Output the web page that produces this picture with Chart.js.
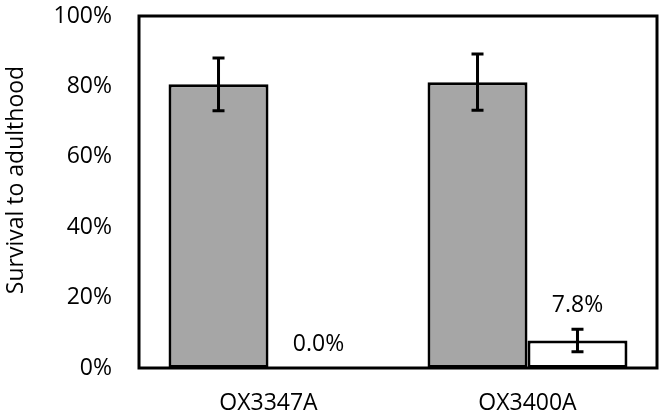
<!DOCTYPE html>
<html>
<head>
<meta charset="utf-8">
<script src="https://cdn.jsdelivr.net/npm/chart.js@4/dist/chart.umd.min.js"></script>
<style>
  html, body { margin: 0; padding: 0; background: #fff; }
  #wrap { width: 664px; height: 418px; }
</style>
</head>
<body>
<div id="wrap"><canvas id="survivalChart"></canvas></div>
<script>
// values (percent)
const strains = ['OX3347A', 'OX3400A'];
const controlValues = [80.6, 81.2];
const controlErrors = [7.5, 8.0];
const transgenicValues = [0, 7.8];
const transgenicErrors = [0, 3.2];
const yTicks = [0, 20, 40, 60, 80, 100];
const yTitle = 'Survival to adulthood';

const FONT = "'Open Sans', sans-serif";
const LINE = 3;

// frame round the plot area, error bars, value labels, y title
const extrasPlugin = {
    id: 'extras',
    afterDatasetsDraw(chart) {
        const ctx = chart.ctx;
        const y = chart.scales.y;
        const errSets = [controlErrors, transgenicErrors];

        ctx.save();
        ctx.strokeStyle = '#000';
        ctx.lineWidth = LINE;

        chart.data.datasets.forEach((ds, di) => {
            const meta = chart.getDatasetMeta(di);
            meta.data.forEach((bar, i) => {
                const err = errSets[di][i];
                if (!err) return;
                const v = ds.data[i];
                const top = y.getPixelForValue(v + err);
                const bot = y.getPixelForValue(v - err);
                ctx.beginPath();
                ctx.moveTo(bar.x, top);
                ctx.lineTo(bar.x, bot);
                ctx.moveTo(bar.x - 6, top);
                ctx.lineTo(bar.x + 6, top);
                ctx.moveTo(bar.x - 6, bot);
                ctx.lineTo(bar.x + 6, bot);
                ctx.stroke();
            });
        });

        ctx.fillStyle = '#000';
        ctx.font = '23px ' + FONT;
        ctx.textAlign = 'center';
        ctx.textBaseline = 'middle';
        chart.getDatasetMeta(1).data.forEach((bar, i) => {
            const v = transgenicValues[i];
            const ty = y.getPixelForValue(v + transgenicErrors[i]) - 24;
            ctx.fillText(v.toFixed(1) + '%', bar.x, ty);
        });

        // y title sits a bit above the plot's middle in the original
        ctx.save();
        ctx.translate(16, (y.top + y.bottom) / 2 - 12);
        ctx.rotate(-Math.PI / 2);
        ctx.fillText(yTitle, 0, 0);
        ctx.restore();

        const a = chart.chartArea;
        ctx.strokeRect(a.left, a.top, a.right - a.left, a.bottom - a.top);
        ctx.restore();
    }
};

new Chart(document.getElementById('survivalChart'), {
    type: 'bar',
    data: {
        labels: strains,
        datasets: [{
            label: 'Control',
            data: controlValues,
            backgroundColor: '#a6a6a6',
            borderColor: '#000',
            borderWidth: LINE,
            borderSkipped: false
        }, {
            label: 'Transgenic',
            data: transgenicValues,
            backgroundColor: '#fff',
            borderColor: '#000',
            borderWidth: LINE,
            borderSkipped: false
        }]
    },
    options: {
        responsive: true,
        maintainAspectRatio: false,
        animation: false,
        layout: { padding: { top: 16, right: 7, left: 0, bottom: 0 } },
        datasets: { bar: { barPercentage: 1, categoryPercentage: 0.772 } },
        plugins: {
            legend: { display: false },
            tooltip: { enabled: false }
        },
        scales: {
            x: {
                grid: { display: false, drawTicks: false },
                border: { display: false },
                ticks: { color: '#000', font: { family: FONT, size: 23 }, padding: 22 },
                afterFit: s => { s.height = 50; s.paddingLeft = 0; s.paddingRight = 0; }
            },
            y: {
                min: 0,
                max: 100,
                afterBuildTicks: s => { s.ticks = yTicks.map(v => ({ value: v })); },
                grid: { display: false, drawTicks: false },
                border: { display: false },
                ticks: {
                    color: '#000',
                    font: { family: FONT, size: 23 },
                    padding: 27,
                    callback: v => v + '%'
                },
                afterFit: s => { s.width = 139; s.paddingTop = 0; s.paddingBottom = 0; }
            }
        }
    },
    plugins: [extrasPlugin]
});
</script>
</body>
</html>
